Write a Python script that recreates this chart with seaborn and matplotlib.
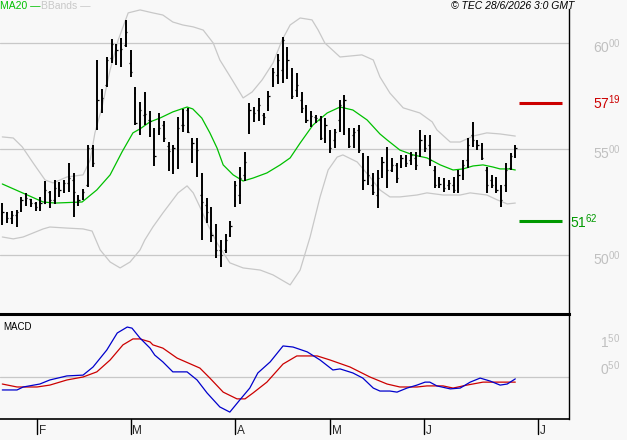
import matplotlib
matplotlib.use("Agg")
import matplotlib.pyplot as plt
import seaborn as sns
import pandas as pd
import numpy as np

# ---- daily OHLC bars (index 0 = first bar on the chart) ----
opens = [5165, 5198, 5175, 5189, 5212, 5260, 5264, 5245, 5227, 5245,
         5297, 5260, 5316, 5307, 5340, 5354, 5269, 5269, 5330, 5505,
         5599, 5731, 5802, 5929, 5977, 5967, 5991, 5906, 5764, 5694,
         5661, 5637, 5486, 5590, 5613, 5514, 5495, 5495, 5613, 5684,
         5543, 5495, 5283, 5236, 5165, 5118, 5024, 5024, 5094, 5260,
         5283, 5378, 5590, 5661, 5684, 5661, 5708, 5826, 5849, 5873,
         5944, 5849, 5778, 5731, 5684, 5646, 5651, 5637, 5590, 5543,
         5543, 5637, 5684, 5590, 5566, 5590, 5401, 5401, 5330, 5283,
         5401, 5425, 5401, 5425, 5425, 5448, 5448, 5458, 5495, 5543,
         5519, 5401, 5354, 5330, 5330, 5330, 5330, 5378, 5448, 5566,
         5533, 5519, 5401, 5354, 5330, 5307, 5330, 5411, 5472]
highs = [5245, 5203, 5208, 5212, 5274, 5293, 5264, 5250, 5274, 5349,
         5302, 5354, 5345, 5354, 5434, 5387, 5283, 5312, 5519, 5519,
         5920, 5783, 5934, 6019, 5995, 6024, 6109, 5967, 5793, 5722,
         5769, 5679, 5599, 5670, 5632, 5533, 5519, 5651, 5689, 5694,
         5552, 5552, 5387, 5269, 5227, 5146, 5071, 5099, 5161, 5349,
         5415, 5486, 5717, 5698, 5741, 5670, 5774, 5882, 5948, 6028,
         5981, 5882, 5859, 5769, 5708, 5679, 5661, 5656, 5646, 5590,
         5595, 5731, 5755, 5599, 5599, 5613, 5481, 5467, 5387, 5401,
         5462, 5510, 5458, 5434, 5472, 5472, 5486, 5486, 5590, 5566,
         5566, 5420, 5368, 5363, 5354, 5368, 5401, 5448, 5552, 5628,
         5543, 5528, 5415, 5378, 5368, 5330, 5434, 5481, 5519]
lows = [5142, 5151, 5146, 5132, 5203, 5231, 5227, 5208, 5208, 5241,
        5222, 5241, 5274, 5293, 5297, 5179, 5231, 5260, 5321, 5415,
        5590, 5670, 5793, 5906, 5896, 5887, 5981, 5840, 5613, 5566,
        5613, 5557, 5420, 5566, 5533, 5396, 5382, 5406, 5580, 5576,
        5434, 5368, 5071, 5151, 5061, 4986, 4944, 5009, 5085, 5227,
        5241, 5349, 5571, 5628, 5632, 5613, 5679, 5793, 5807, 5811,
        5830, 5736, 5745, 5670, 5623, 5604, 5623, 5543, 5528, 5481,
        5505, 5580, 5566, 5505, 5505, 5481, 5307, 5330, 5283, 5222,
        5363, 5316, 5392, 5340, 5411, 5415, 5425, 5401, 5462, 5486,
        5420, 5316, 5316, 5297, 5307, 5293, 5293, 5354, 5411, 5510,
        5495, 5448, 5293, 5316, 5293, 5227, 5297, 5401, 5458]
closes = [5203, 5175, 5189, 5203, 5260, 5269, 5245, 5227, 5245, 5307,
          5260, 5316, 5307, 5340, 5363, 5297, 5260, 5297, 5505, 5434,
          5731, 5741, 5920, 5995, 5967, 5972, 6052, 5863, 5623, 5684,
          5665, 5632, 5467, 5599, 5552, 5491, 5505, 5599, 5613, 5580,
          5528, 5495, 5250, 5203, 5094, 5024, 5000, 5071, 5137, 5330,
          5363, 5439, 5684, 5670, 5708, 5651, 5750, 5863, 5920, 6014,
          5920, 5750, 5802, 5694, 5637, 5656, 5646, 5552, 5613, 5505,
          5580, 5708, 5731, 5514, 5580, 5495, 5354, 5378, 5297, 5363,
          5439, 5401, 5425, 5363, 5458, 5434, 5472, 5425, 5543, 5505,
          5448, 5330, 5335, 5316, 5340, 5307, 5378, 5425, 5519, 5543,
          5519, 5458, 5330, 5330, 5307, 5260, 5401, 5467, 5505]

# ---- MA20 and Bollinger bands (bar index, price) ----
ma_x = [0, 8.6, 11.1, 16.8, 19.9, 22.7, 25.2, 27.5, 29.0, 31.1, 33.2, 35.9,
        38.9, 40.1, 42.0, 43.7, 45.2, 46.5, 48.6, 50.7, 52.8, 55.7, 58.5,
        60.6, 62.7, 65.4, 68.4, 71.1, 73.8, 76.8, 79.5, 81.0, 83.7, 86.5,
        89.4, 92.2, 94.9, 97.0, 99.1, 101.2, 103.3, 104.8, 106.9, 108.0]
ma_y = [5335, 5250, 5245, 5250, 5307, 5378, 5486, 5576, 5595, 5628, 5646, 5675,
        5698, 5689, 5646, 5576, 5505, 5425, 5378, 5349, 5363, 5387, 5425,
        5458, 5528, 5613, 5670, 5698, 5684, 5637, 5571, 5543, 5495, 5472,
        5458, 5425, 5401, 5406, 5420, 5425, 5415, 5406, 5406, 5401]

up_x = [0, 2.3, 4.2, 6.5, 9.0, 10.7, 13.6, 17.0, 18.5, 19.5, 21.0, 22.7, 24.4,
        26.5, 29.0, 31.7, 33.8, 35.9, 38.0, 40.2, 42.3, 44.4, 45.8, 48.4,
        50.7, 52.6, 54.7, 57.0, 58.9, 60.6, 62.7, 65.2, 66.5, 67.9, 71.1,
        75.7, 78.1, 79.5, 81.6, 84.4, 87.9, 90.5, 91.5, 94.3, 96.4, 99.1,
        102.0, 104.8, 108.0]
up_y = [5557, 5552, 5510, 5434, 5354, 5340, 5368, 5378, 5448, 5576, 5698, 5873, 6014,
        6142, 6156, 6142, 6132, 6099, 6085, 6076, 6061, 6000, 5920, 5826,
        5741, 5769, 5826, 5906, 6014, 6085, 6118, 6109, 6061, 6000, 5934,
        5944, 5920, 5840, 5764, 5694, 5670, 5628, 5590, 5533, 5533, 5561,
        5576, 5571, 5561]

lo_x = [0, 2.3, 4.4, 6.5, 8.6, 10.0, 13.6, 17.0, 18.9, 20.6, 22.7, 24.8, 26.9,
        29.0, 30.0, 31.7, 33.8, 37.0, 38.9, 40.2, 41.6, 43.1, 45.2, 47.9,
        50.7, 54.3, 57.0, 60.6, 62.7, 64.8, 66.9, 68.6, 70.5, 71.7, 74.7,
        77.4, 79.5, 81.6, 83.7, 87.3, 89.4, 92.8, 96.4, 98.5, 102.0, 104.2,
        106.3, 108.0]
lo_y = [5085, 5076, 5085, 5104, 5123, 5132, 5127, 5123, 5113, 5024, 4967, 4939, 4967,
        5024, 5071, 5132, 5198, 5293, 5326, 5293, 5227, 5151, 5057, 4963,
        4939, 4929, 4906, 4859, 4929, 5085, 5274, 5401, 5462, 5472, 5439,
        5368, 5307, 5274, 5274, 5283, 5293, 5283, 5283, 5293, 5283, 5260,
        5241, 5245]

# ---- MACD panel ----
macd_x = [0, 3.1, 4.4, 7.9, 10.0, 13.6, 17.0, 19.1, 22.0, 24.2, 26.3, 27.3, 29.0,
          31.1, 32.1, 33.8, 35.9, 38.9, 41.0, 43.1, 45.8, 47.9, 50.0, 52.1,
          53.8, 56.4, 59.1, 61.2, 64.2, 66.9, 69.6, 71.1, 73.8, 75.9, 78.1,
          79.5, 81.6, 83.1, 85.2, 87.3, 89.0, 90.0, 91.5, 94.3, 96.4, 98.5,
          100.6, 102.7, 104.8, 106.3, 108.0]
macd_y = [-0.48, -0.48, -0.37, -0.26, -0.11, 0.04, 0.07, 0.37, 1.00, 1.63, 1.85, 1.81, 1.44,
          1.07, 0.81, 0.56, 0.19, 0.19, -0.11, -0.59, -1.11, -1.30, -0.85, -0.41,
          0.15, 0.56, 1.15, 1.11, 0.93, 0.63, 0.26, 0.30, 0.15, -0.04, -0.41,
          -0.52, -0.52, -0.56, -0.41, -0.30, -0.19, -0.19, -0.33, -0.44, -0.41, -0.19,
          -0.04, -0.15, -0.30, -0.26, -0.07]
sig_x = [0, 3.1, 7.3, 10.0, 13.6, 17.0, 19.9, 22.7, 25.4, 27.5, 29.0, 31.1, 31.7,
         33.8, 36.8, 41.6, 43.7, 46.5, 49.4, 51.1, 52.8, 55.7, 59.1, 62.0,
         66.3, 69.0, 73.2, 77.4, 81.0, 83.7, 87.3, 89.4, 92.8, 94.9, 97.8,
         101.2, 104.8, 108.0]
sig_y = [-0.26, -0.37, -0.37, -0.30, -0.11, 0.00, 0.19, 0.63, 1.19, 1.41, 1.41, 1.30, 1.19,
         1.07, 0.70, 0.33, -0.04, -0.56, -0.81, -0.81, -0.59, -0.19, 0.48, 0.78,
         0.78, 0.63, 0.37, 0.00, -0.26, -0.37, -0.37, -0.33, -0.33, -0.41, -0.30,
         -0.19, -0.19, -0.19]

# ---- levels, ticks ----
resistance = 5719
support = 5162
price_grid = [5000, 5500, 6000]
months = ["F", "M", "A", "M", "J", "J"]
month_pos = [7.3, 27.0, 49.0, 69.0, 88.8, 112.8]

BG = "#f8f8f8"
GRID = "#c8c8c8"
W, H = 627, 440
PX0, PXSTEP = 2.3, 4.75          # pixel of bar 0, pixels per bar


def to_idx(px):
    return (px - PX0) / PXSTEP


def price_at(py):
    return 6000 - (py - 43) * 500 / 106


sns.set_style("white")
plt.rcParams["font.family"] = ["Liberation Sans", "DejaVu Sans"]
plt.rcParams["mathtext.fontset"] = "custom"
plt.rcParams["mathtext.rm"] = "Liberation Sans"
plt.rcParams["mathtext.it"] = "Liberation Sans:italic"

fig = plt.figure(figsize=(W / 100, H / 100), dpi=100, facecolor=BG)
ax1 = fig.add_axes([0, 1 - 314 / H, 569 / W, (314 - 9) / H])
ax2 = fig.add_axes([0, 1 - 419 / H, 569 / W, (419 - 314) / H])

for ax in (ax1, ax2):
    ax.set_facecolor(BG)
    ax.set_xlim(to_idx(0), to_idx(569))
    ax.set_xticks([])
    ax.set_yticks([])
    for s in ax.spines.values():
        s.set_visible(False)
    ax.spines["right"].set_visible(True)
    ax.spines["right"].set_color("black")
    ax.spines["right"].set_linewidth(1.0)

ax1.set_ylim(price_at(314), price_at(9))
ax2.set_ylim(-(419 - 377) / 27, (377 - 314) / 27)
ax2.spines["top"].set_visible(True)
ax2.spines["top"].set_linewidth(2.2)
ax2.spines["top"].set_color("black")
ax2.spines["bottom"].set_visible(True)
ax2.spines["bottom"].set_linewidth(1.2)
ax2.spines["bottom"].set_color("black")

# grid lines
for g in price_grid:
    ax1.axhline(g, color=GRID, lw=0.9, zorder=0)
ax2.axhline(0, color=GRID, lw=0.9, zorder=0)

# bands + MA20
bands = pd.concat([
    pd.DataFrame({"x": up_x, "y": up_y, "line": "up"}),
    pd.DataFrame({"x": lo_x, "y": lo_y, "line": "lo"}),
])
sns.lineplot(data=bands, x="x", y="y", units="line", estimator=None,
             color=GRID, lw=0.9, ax=ax1, legend=False, sort=False)
sns.lineplot(x=ma_x, y=ma_y, color="#00c000", lw=0.9, ax=ax1, legend=False)

# OHLC bars
idx = np.arange(len(closes))
ax1.vlines(idx, lows, highs, color="black", lw=1.4, zorder=3)
ax1.hlines(opens, idx - 0.3, idx, color="black", lw=0.9, zorder=3)
ax1.hlines(closes, idx, idx + 0.3, color="black", lw=0.9, zorder=3)

# support / resistance
ax1.hlines(resistance, to_idx(519), to_idx(562), color="#cc0000", lw=2.2)
ax1.hlines(support, to_idx(519), to_idx(562), color="#009900", lw=2.2)

# MACD
sns.lineplot(x=sig_x, y=sig_y, color="#cc0000", lw=0.9, ax=ax2, legend=False)
sns.lineplot(x=macd_x, y=macd_y, color="#0000cc", lw=0.9, ax=ax2, legend=False)
for ax in (ax1, ax2):
    ax.set_xlabel("")
    ax.set_ylabel("")


def ftext(px, py, s, **kw):
    fig.text(px / W, 1 - py / H, s, va="center", **kw)


# right-hand labels
ftext(593, 47, r"$60^{00}$", color="#c0c0c0", fontsize=10)
ftext(593, 153, r"$55^{00}$", color="#c0c0c0", fontsize=10)
ftext(593, 259, r"$50^{00}$", color="#c0c0c0", fontsize=10)
ftext(593, 103, r"$57^{19}$", color="#cc0000", fontsize=10)
ftext(570, 222, r"$51^{62}$", color="#009900", fontsize=10)
ftext(600, 342, r"$1^{50}$", color="#c0c0c0", fontsize=10)
ftext(600, 369, r"$0^{50}$", color="#c0c0c0", fontsize=10)

# header texts
ftext(0, 6, "MA20 \u2014", color="#00c000", fontsize=7.5)
ftext(41, 6, "BBands \u2014", color="#c8c8c8", fontsize=7.5)
ftext(574, 6, "\u00a9 TEC 28/6/2026 3:0 GMT", color="black", fontsize=7.5,
      style="italic", ha="right")
ftext(3, 327, "MACD", color="black", fontsize=7)

# month ticks below the MACD panel
tr = ax2.get_xaxis_transform()
for m, pos in zip(months, month_pos):
    ax2.plot([pos, pos], [0, -15 / 105], transform=tr, color="black", lw=1.0,
             clip_on=False)
    ax2.text(pos + 0.35, -12 / 105, m, transform=tr, fontsize=8.5,
             va="center", ha="left", clip_on=False)

fig.savefig("out.png", dpi=100, facecolor=BG)
